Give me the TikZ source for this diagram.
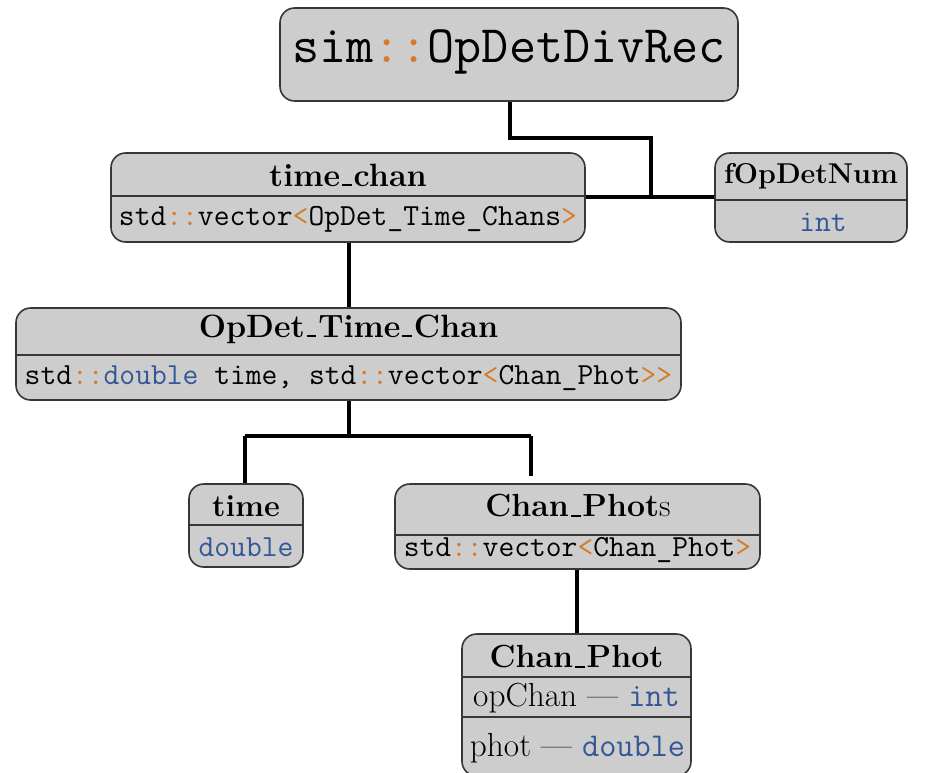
\documentclass[tikz,border=0pt]{standalone}
\usepackage{fontspec}
\usepackage{xcolor}
\definecolor{boxfill}{RGB}{205,205,205}
\definecolor{boxline}{RGB}{55,55,55}
\definecolor{kwo}{RGB}{214,122,44}
\definecolor{kwb}{RGB}{50,86,150}
\newcommand{\oc}[1]{{\color{kwo}#1}}
\newcommand{\bc}[1]{{\color{kwb}#1}}
\newcommand{\usc}{\leavevmode\kern.06em\vbox{\hrule width.3em height .06em}\kern.06em}
\begin{document}
\begin{tikzpicture}[x=0.75pt,y=-0.75pt,
  box/.style={draw=boxline, fill=boxfill, line width=1.2pt, rounded corners=11pt, inner sep=0pt},
  divline/.style={draw=boxline, line width=1.2pt},
  conn/.style={line width=3pt, black},
  txt/.style={inner sep=0pt, font=\fontsize{24}{28}\selectfont},
  mono/.style={inner sep=0pt, font=\fontsize{23}{27}\selectfont\ttfamily},
  rowtxt/.style={inner sep=0pt, font=\fontsize{25}{29}\selectfont},
  ttl/.style={inner sep=0pt, font=\fontsize{24.2}{28}\selectfont\bfseries},
  big/.style={inner sep=0pt, font=\fontsize{39.5}{46}\selectfont\ttfamily}]
\useasboundingbox (0,0) rectangle (938,772);

% boxes
\node[box, minimum width=343.5pt, minimum height=69.75pt] (root) at (509,54.5) {};
\node[box, minimum width=355.5pt, minimum height=66.75pt] (tc) at (348,197.5) {};
\node[box, minimum width=144pt, minimum height=66.75pt] (fop) at (811,197.5) {};
\node[box, minimum width=498.75pt, minimum height=69pt] (otc) at (348.5,354) {};
\node[box, minimum width=85.5pt, minimum height=62.25pt] (tm) at (246,525.5) {};
\node[box, minimum width=273.75pt, minimum height=63.75pt] (cps) at (577.5,526.5) {};
\node[box, minimum width=171.75pt, minimum height=106.5pt] (cp) at (576.5,705) {};

% dividers
\draw[divline] (tc.west |- 0,196) -- (tc.east |- 0,196);
\draw[divline] (fop.west |- 0,200) -- (fop.east |- 0,200);
\draw[divline] (otc.west |- 0,355) -- (otc.east |- 0,355);
\draw[divline] (tm.west |- 0,525) -- (tm.east |- 0,525);
\draw[divline] (cps.west |- 0,535) -- (cps.east |- 0,535);
\draw[divline] (cp.west |- 0,677) -- (cp.east |- 0,677);
\draw[divline] (cp.west |- 0,717) -- (cp.east |- 0,717);

% texts
\node[big] (rootT) at (509,52) {sim\oc{::}OpDetDivRec};
\node[ttl] (tcT) at (348,175) {time\usc chan};
\node[mono] (tcR) at (348,219) {std\oc{::}vector\oc{<}OpDet\_Time\_Chans\oc{>}};
\node[ttl, font=\fontsize{21.5}{26}\selectfont\bfseries] (fopT) at (811,176) {fOpDetNum};
\node[mono] (fopR) at (823,222) {\bc{int}};
\node[ttl] (otcT) at (348.5,329) {OpDet\usc Time\usc Chan};
\node[mono] (otcR) at (348.5,378) {std\oc{::}\bc{double} time, std\oc{::}vector\oc{<}Chan\_Phot\oc{>>}};
\node[ttl, font=\fontsize{23}{27}\selectfont\bfseries] (tmT) at (246,506) {time};
\node[mono] (tmR) at (246,547) {\bc{double}};
\node[txt] (cpsT) at (578,506) {\textbf{Chan\usc Phot}s};
\node[mono] (cpsR) at (577.5,550) {std\oc{::}vector\oc{<}Chan\_Phot\oc{>}};
\node[ttl, font=\fontsize{24}{28}\selectfont\bfseries] (cpT) at (576.5,657) {Chan\usc Phot};
\node[rowtxt] (cpR1) at (576.5,698) {opChan --- \texttt{\bc{int}}};
\node[rowtxt] (cpR2) at (577.5,748) {phot --- \texttt{\bc{double}}};

% connectors
\coordinate (j1) at (651,197);
\draw[conn] (tc.east |- j1) -- (fop.west |- j1);
\draw[conn] (root.south -| 510,0) |- (651,138) -- (j1);
\draw[conn] (tc.south -| 349,0) -- (otc.north -| 349,0);
\coordinate (j2) at (349,436);
\draw[conn] (otc.south -| 349,0) -- (j2);
\draw[conn] (245,436) -- (531,436);
\draw[conn] (245,436) -- (tm.north -| 245,0);
\draw[conn] (531,436) -- ([yshift=5.25pt]cps.north -| 531,0);
\draw[conn] (cps.south -| 577,0) -- (cp.north -| 577,0);
\end{tikzpicture}
\end{document}
